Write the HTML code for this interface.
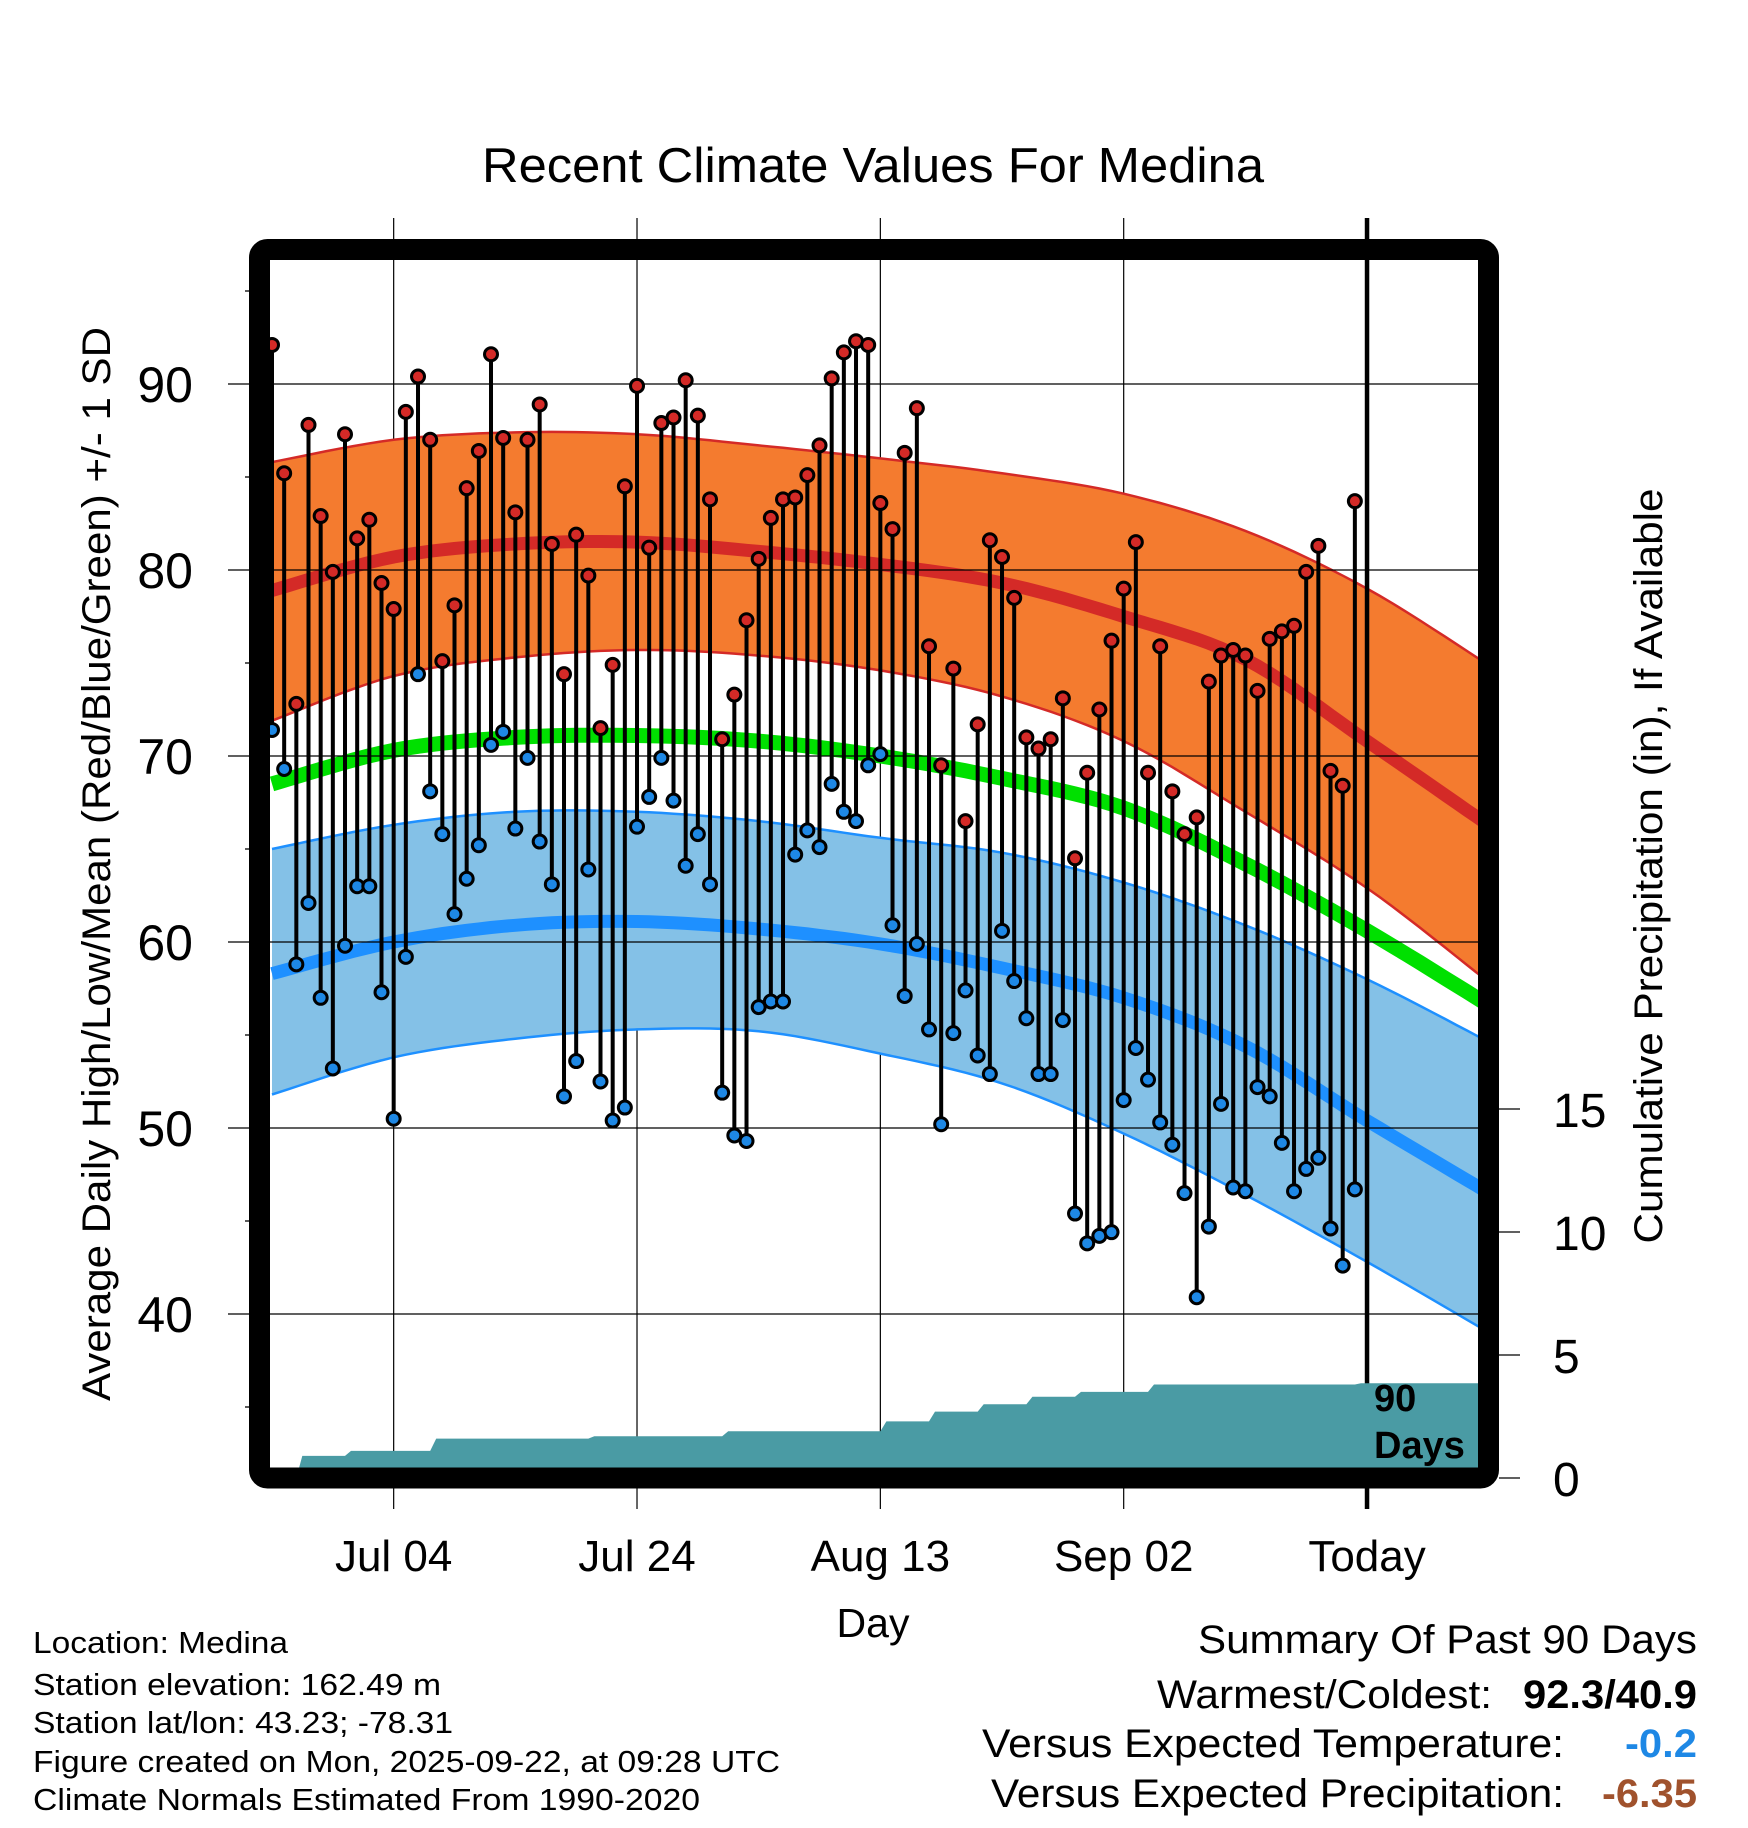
<!DOCTYPE html>
<html><head><meta charset="utf-8"><title>Recent Climate Values For Medina</title>
<style>html,body{margin:0;padding:0;background:#fff}svg{display:block}text{font-family:"Liberation Sans",Arial,sans-serif}</style></head>
<body>
<svg id="chart" xmlns="http://www.w3.org/2000/svg" width="1748" height="1828" viewBox="0 0 1748 1828">
<defs><clipPath id="plotclip"><rect x="270" y="260" width="1208" height="1208"/></clipPath></defs>
<rect width="1748" height="1828" fill="#fff"/>
<text x="873" y="182" font-size="49" text-anchor="middle" textLength="782" lengthAdjust="spacingAndGlyphs">Recent Climate Values For Medina</text>
<g id="grid-v"></g>
<g id="bands" clip-path="url(#plotclip)"></g>
<g id="grid-h"></g>
<g id="precip" clip-path="url(#plotclip)"></g>
<g id="stems"></g>
<g id="points"></g>
<rect x="259.5" y="249.5" width="1229" height="1228.5" rx="8" fill="none" stroke="#000" stroke-width="21"/>
<g id="axes"></g>
<text transform="translate(110,864) rotate(-90)" font-size="40" text-anchor="middle" textLength="1074" lengthAdjust="spacingAndGlyphs">Average Daily High/Low/Mean (Red/Blue/Green) +/- 1 SD</text>
<text transform="translate(1662,866) rotate(-90)" font-size="40" text-anchor="middle" textLength="755" lengthAdjust="spacingAndGlyphs">Cumulative Precipitation (in), If Available</text>
<text x="873" y="1637" font-size="41" text-anchor="middle">Day</text>
<text x="1374" y="1411" font-size="38" font-weight="bold">90</text>
<text x="1374" y="1458" font-size="38" font-weight="bold">Days</text>
<g font-size="31">
<text x="33" y="1653" textLength="255" lengthAdjust="spacingAndGlyphs">Location: Medina</text>
<text x="33" y="1695" textLength="408" lengthAdjust="spacingAndGlyphs">Station elevation: 162.49 m</text>
<text x="33" y="1733" textLength="420" lengthAdjust="spacingAndGlyphs">Station lat/lon: 43.23; -78.31</text>
<text x="33" y="1772" textLength="747" lengthAdjust="spacingAndGlyphs">Figure created on Mon, 2025-09-22, at 09:28 UTC</text>
<text x="33" y="1810" textLength="667" lengthAdjust="spacingAndGlyphs">Climate Normals Estimated From 1990-2020</text>
</g>
<g font-size="40">
<text x="1198" y="1653" textLength="499" lengthAdjust="spacingAndGlyphs">Summary Of Past 90 Days</text>
<text x="1157" y="1708" textLength="335" lengthAdjust="spacingAndGlyphs">Warmest/Coldest:</text>
<text x="1523" y="1708" font-weight="bold" textLength="174" lengthAdjust="spacingAndGlyphs">92.3/40.9</text>
<text x="982" y="1757" textLength="582" lengthAdjust="spacingAndGlyphs">Versus Expected Temperature:</text>
<text x="1625" y="1757" font-weight="bold" fill="#1e88e5" textLength="72" lengthAdjust="spacingAndGlyphs">-0.2</text>
<text x="991" y="1807" textLength="573" lengthAdjust="spacingAndGlyphs">Versus Expected Precipitation:</text>
<text x="1602" y="1807" font-weight="bold" fill="#a0522d" textLength="95" lengthAdjust="spacingAndGlyphs">-6.35</text>
</g>
</svg>
<script>
const highs = [92.1,85.2,72.8,87.8,82.9,79.9,87.3,81.7,82.7,79.3,
77.9,88.5,90.4,87.0,75.1,78.1,84.4,86.4,91.6,87.1,
83.1,87.0,88.9,81.4,74.4,81.9,79.7,71.5,74.9,84.5,
89.9,81.2,87.9,88.2,90.2,88.3,83.8,70.9,73.3,77.3,
80.6,82.8,83.8,83.9,85.1,86.7,90.3,91.7,92.3,92.1,
83.6,82.2,86.3,88.7,75.9,69.5,74.7,66.5,71.7,81.6,
80.7,78.5,71.0,70.4,70.9,73.1,64.5,69.1,72.5,76.2,
79.0,81.5,69.1,75.9,68.1,65.8,66.7,74.0,75.4,75.7,
75.4,73.5,76.3,76.7,77.0,79.9,81.3,69.2,68.4,83.7];
const lows = [71.4,69.3,58.8,62.1,57.0,53.2,59.8,63.0,63.0,57.3,
50.5,59.2,74.4,68.1,65.8,61.5,63.4,65.2,70.6,71.3,
66.1,69.9,65.4,63.1,51.7,53.6,63.9,52.5,50.4,51.1,
66.2,67.8,69.9,67.6,64.1,65.8,63.1,51.9,49.6,49.3,
56.5,56.8,56.8,64.7,66.0,65.1,68.5,67.0,66.5,69.5,
70.1,60.9,57.1,59.9,55.3,50.2,55.1,57.4,53.9,52.9,
60.6,57.9,55.9,52.9,52.9,55.8,45.4,43.8,44.2,44.4,
51.5,54.3,52.6,50.3,49.1,46.5,40.9,44.7,51.3,46.8,
46.6,52.2,51.7,49.2,46.6,47.8,48.4,44.6,42.6,46.7];
const normDays = [0,10,20,30,40,50,60,70,80,90,99.5];
const highUpper = [85.8,87.0,87.4,87.3,86.7,86.0,85.2,84.1,82.1,79.0,75.1];
const normHigh = [78.9,80.7,81.4,81.5,81.0,80.3,79.3,77.5,75.2,70.8,66.5];
const highLower = [71.9,74.3,75.3,75.7,75.4,74.6,73.2,70.8,67.0,62.9,58.1];
const normMean = [68.5,70.3,71.0,71.1,70.8,70.0,68.8,67.2,64.2,60.6,56.8];
const lowUpper = [65.0,66.3,67.0,67.0,66.5,65.6,64.8,63.2,60.9,58.0,54.8];
const normLow = [58.3,60.0,60.9,61.1,60.7,59.9,58.6,57.0,54.4,50.4,46.7];
const lowLower = [51.8,53.8,54.8,55.3,55.2,54.0,52.4,49.7,46.4,42.8,39.2];
const precipDays = [2,6,13,26,37,50,54,58,62,66,72,89];
const precipAmounts = [0.9,0.2,0.5,0.1,0.2,0.4,0.4,0.3,0.3,0.2,0.3,0.05];
const xTickDays = [10,30,50,70,90];
const xTickLabels = ["Jul 04","Jul 24","Aug 13","Sep 02","Today"];
const yTicks = [40,50,60,70,80,90];
const yMinor = [35,45,55,65,75,85,95];
const pTicks = [0,5,10,15];

const NS = "http://www.w3.org/2000/svg";
const X = d => 272 + d * 12.167;
const Y = v => 384 + (90 - v) * 18.6;
const YP = p => 1478 - p * 24.6;
function mk(tag, attrs, parent) { const e = document.createElementNS(NS, tag); for (const k in attrs) e.setAttribute(k, attrs[k]); parent.appendChild(e); return e; }
function smooth(days, vals) {
  const pts = []; const n = days.length;
  for (let i = 0; i < n - 1; i++) {
    const p0 = i > 0 ? i - 1 : i, p3 = i + 2 < n ? i + 2 : i + 1;
    for (let t = 0; t < 1; t += 0.1) {
      const t2 = t * t, t3 = t2 * t;
      const f = (a, b, c, d) => 0.5 * (2 * b + (-a + c) * t + (2 * a - 5 * b + 4 * c - d) * t2 + (-a + 3 * b - 3 * c + d) * t3);
      pts.push([X(f(days[p0], days[i], days[i + 1], days[p3])), Y(f(vals[p0], vals[i], vals[i + 1], vals[p3]))]);
    }
  }
  pts.push([X(days[n - 1]), Y(vals[n - 1])]);
  return pts;
}
const toD = pts => pts.map((p, i) => (i ? "L" : "M") + p[0].toFixed(1) + "," + p[1].toFixed(1)).join("");

const gv = document.getElementById("grid-v");
xTickDays.forEach((d, i) => {
  if (i < 4) { const l = mk("line", { x1: X(d), x2: X(d), y1: 218, y2: 1509, stroke: "#000", "stroke-width": 1.2 }, gv);
      }
});

const bands = document.getElementById("bands");
function band(up, lo, fill, edge, name) {
  const a = smooth(normDays, up), b = smooth(normDays, lo).reverse();
  const p = mk("path", { d: toD(a.concat(b)) + "Z", fill: fill }, bands);
   
  const e1 = mk("path", { d: toD(a), fill: "none", stroke: edge, "stroke-width": 2.5 }, bands);
   
  const e2 = mk("path", { d: toD(smooth(normDays, lo)), fill: "none", stroke: edge, "stroke-width": 2.5 }, bands);
   
}
function line(vals, color, w, name) {
  const p = mk("path", { d: toD(smooth(normDays, vals)), fill: "none", stroke: color, "stroke-width": w }, bands);
   
}
band(highUpper, highLower, "#f47b2f", "#d42a27", "high-sd-band");
band(lowUpper, lowLower, "#84c1e7", "#1e90ff", "low-sd-band");
line(normMean, "#00e000", 15, "normal-mean-line");
line(normHigh, "#d42a27", 13, "normal-high-line");
line(normLow, "#1e90ff", 13, "normal-low-line");

const gh = document.getElementById("grid-h");
yTicks.forEach(v => {
  const l = mk("line", { x1: 228, x2: 1478, y1: Y(v), y2: Y(v), stroke: "#000", "stroke-width": 1.3 }, gh);
   
});

const pg = document.getElementById("precip");
let cum = 0, pts = [[X(precipDays[0]), YP(0)]];
precipDays.forEach((d, i) => {
  pts.push([X(d), YP(cum)]); cum += precipAmounts[i]; pts.push([X(d) + 6, YP(cum)]);
});
pts.push([1480, YP(cum)]); pts.push([1480, 1470]); pts.push([X(precipDays[0]), 1470]);
const pa = mk("path", { d: toD(pts) + "Z", fill: "#4a9ba4" }, pg);
 

const today = mk("line", { x1: X(90), x2: X(90), y1: 218, y2: 1509, stroke: "#000", "stroke-width": 4.5 }, gh);
 

const sg = document.getElementById("stems"), pgp = document.getElementById("points");
highs.forEach((h, i) => {
  const s = mk("line", { x1: X(i), x2: X(i), y1: Y(h), y2: Y(lows[i]), stroke: "#000", "stroke-width": 4 }, sg);
   
});
highs.forEach((h, i) => {
  const c1 = mk("circle", { cx: X(i), cy: Y(h), r: 6.5, fill: "#d42a27", stroke: "#000", "stroke-width": 3 }, pgp);
   
  const c2 = mk("circle", { cx: X(i), cy: Y(lows[i]), r: 6.5, fill: "#1e88e5", stroke: "#000", "stroke-width": 3 }, pgp);
   
});

const ax = document.getElementById("axes");
yTicks.forEach(v => {
  const t = mk("text", { x: 193, y: Y(v) + 18, "font-size": 50, "text-anchor": "end" }, ax); t.textContent = v;
   
});
yMinor.forEach(v => {
  const l = mk("line", { x1: 245, x2: 252, y1: Y(v), y2: Y(v), stroke: "#000", "stroke-width": 1.3 }, ax);
   
});
xTickDays.forEach((d, i) => {
  const t = mk("text", { x: X(d), y: 1571, "font-size": 44, "text-anchor": "middle" }, ax); t.textContent = xTickLabels[i];
   
});
pTicks.forEach(p => {
  const l = mk("line", { x1: 1499, x2: 1520, y1: YP(p), y2: YP(p), stroke: "#000", "stroke-width": 1.3 }, ax);
   
  const t = mk("text", { x: 1553, y: YP(p) + 18, "font-size": 48 }, ax); t.textContent = p;
   
});
</script>
</body></html>
